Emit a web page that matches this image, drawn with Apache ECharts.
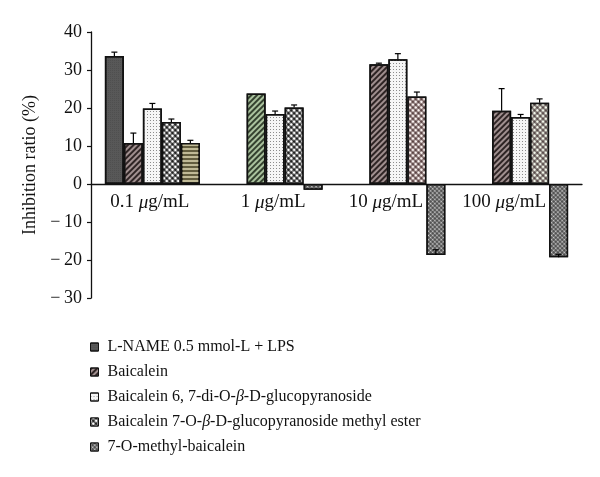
<!DOCTYPE html>
<html>
<head>
<meta charset="utf-8">
<script src="https://cdn.jsdelivr.net/npm/echarts@6/dist/echarts.min.js"></script>
<style>html,body{margin:0;padding:0;background:#fff}#c{width:600px;height:477px}</style>
</head>
<body>
<div id="c"></div>
<script>
const categories = ['0.1 μg/mL', '1 μg/mL', '10 μg/mL', '100 μg/mL'];
const seriesNames = [
  'L-NAME 0.5 mmol-L + LPS',
  'Baicalein',
  'Baicalein 6, 7-di-O-β-D-glucopyranoside',
  'Baicalein 7-O-β-D-glucopyranoside methyl ester',
  '7-O-methyl-baicalein'
];
const lname      = [33.7, null, null, null];
const baicalein  = [10.8, 23.8, 31.5, 19.3];
const diGluco    = [19.9, 18.4, 32.8, 17.6];
const methylEst  = [16.3, 20.1, 23.0, 21.4];
const omethyl    = [10.8, -1.5, -18.7, -19.3];
const lnameErr     = [1.0, 0, 0, 0];
const baicaleinErr = [2.6, 0, 0.3, 5.8];
const diGlucoErr   = [1.3, 0.8, 1.5, 0.7];
const methylEstErr = [0.8, 0.7, 1.2, 1.0];
const omethylErr   = [0.7, 0, 1.4, 0.8];
const yTicks = { min: -30, max: 40, interval: 10 };

const FONT = 'Liberation Serif';
const BW = 19;
const GRID = { left: 91, right: 18, top: 32, bottom: 179 };
const H = 477;

const P = {
  darkDot:  { color: '#585858', decal: { symbol: 'rect', symbolSize: 0.6, dashArrayX: [1, 1], dashArrayY: [1, 1], color: 'rgba(0,0,0,0.35)' } },
  brownHatch: { color: '#a08f8f', decal: { symbol: 'rect', symbolSize: 1, dashArrayX: [1, 0], dashArrayY: [1.5, 1.2], rotation: -Math.PI / 4, color: '#2e2424' } },
  greenHatch: { color: '#aac29e', decal: { symbol: 'rect', symbolSize: 1, dashArrayX: [1, 0], dashArrayY: [1.5, 1.2], rotation: -Math.PI / 4, color: '#34412f' } },
  lightDot: { color: '#f6f6f6', decal: { symbol: 'rect', symbolSize: 1, dashArrayX: [1, 2], dashArrayY: [1, 2], color: '#8c8c8c' } },
  net:      { color: '#1a1a1a', decal: { symbol: 'circle', symbolSize: 0.8, dashArrayX: [4, 0], dashArrayY: [4, 0], rotation: Math.PI / 4, color: '#ffffff' } },
  netPink:  { color: '#573f3f', decal: { symbol: 'circle', symbolSize: 0.8, dashArrayX: [4, 0], dashArrayY: [4, 0], rotation: Math.PI / 4, color: '#fbf3f1' } },
  netGreen: { color: '#544646', decal: { symbol: 'circle', symbolSize: 0.8, dashArrayX: [4, 0], dashArrayY: [4, 0], rotation: Math.PI / 4, color: '#f2f7ea' } },
  olive:    { color: '#625d3e', decal: { symbol: 'rect', symbolSize: 1, dashArrayX: [1, 0], dashArrayY: [1.6, 1.4], color: '#c0ba96' } },
  grayDot:  { color: '#444444', decal: { symbol: 'circle', symbolSize: 0.7, dashArrayX: [2.5, 0], dashArrayY: [2.5, 0], rotation: Math.PI / 4, color: '#d6d6d6' } }
};

function item(v, style) {
  if (v === null) return '-';
  if (!style) return v;
  return { value: v, itemStyle: { color: style.color, decal: style.decal } };
}

const barData = [
  { vals: lname,     base: P.darkDot,    over: [] },
  { vals: baicalein, base: P.brownHatch, over: [null, P.greenHatch, null, null] },
  { vals: diGluco,   base: P.lightDot,   over: [] },
  { vals: methylEst, base: P.net,        over: [null, null, P.netPink, P.netGreen] },
  { vals: omethyl,   base: P.grayDot,    over: [P.olive, null, null, null] }
];
const errs = [lnameErr, baicaleinErr, diGlucoErr, methylEstErr, omethylErr];

const series = barData.map((b, i) => ({
  name: seriesNames[i],
  type: 'bar',
  barWidth: BW,
  barGap: 0,
  itemStyle: { color: b.base.color, decal: b.base.decal, borderColor: '#111', borderWidth: 1.5 },
  data: b.vals.map((v, k) => item(v, b.over[k] || null))
}));

const errData = [];
barData.forEach((b, i) => {
  b.vals.forEach((v, k) => {
    if (v !== null && errs[i][k] > 0) errData.push([k, i, v, errs[i][k]]);
  });
});

series.push({
  type: 'custom',
  name: 'err',
  z: 5,
  encode: { x: 0, y: 2 },
  data: errData,
  renderItem: function (params, api) {
    const k = api.value(0), i = api.value(1), v = api.value(2), e = api.value(3);
    const p0 = api.coord([k, v]);
    const p1 = api.coord([k, v + e]);
    const x = p0[0] + (i - 2) * BW;
    const half = 3;
    return {
      type: 'group',
      children: [
        { type: 'line', shape: { x1: x, y1: p0[1], x2: x, y2: p1[1] }, style: { stroke: '#000', lineWidth: 1.2 } },
        { type: 'line', shape: { x1: x - half, y1: p1[1], x2: x + half, y2: p1[1] }, style: { stroke: '#000', lineWidth: 1.2 } }
      ]
    };
  }
});

const labelShift = [5, 4, 24, 33];
const plotH = H - GRID.top - GRID.bottom;
const zeroOffset = (0 - yTicks.min) / (yTicks.max - yTicks.min) * plotH;

const chart = echarts.init(document.getElementById('c'), null, { renderer: 'canvas' });
chart.setOption({
  animation: false,
  backgroundColor: '#fff',
  grid: GRID,
  legend: {
    orient: 'vertical',
    left: 90,
    top: 339,
    padding: 0,
    icon: 'rect',
    itemWidth: 8,
    itemHeight: 8,
    itemGap: 9,
    itemStyle: { borderColor: '#111', borderWidth: 1 },
    data: seriesNames,
    formatter: function (n) { return n.replace(/β/g, '{i|β}'); },
    textStyle: {
      fontFamily: FONT, fontSize: 16, color: '#111', padding: [0, 0, 0, 4],
      rich: { i: { fontFamily: FONT, fontSize: 16, fontStyle: 'italic', color: '#111' } }
    }
  },
  xAxis: {
    type: 'category',
    data: categories.map((c, k) => ({ value: c, textStyle: { padding: [0, labelShift[k], 0, 0] } })),
    axisLine: { onZero: true, lineStyle: { color: '#111', width: 1.3 } },
    axisTick: { show: false },
    axisLabel: {
      interval: 0,
      margin: 9 - zeroOffset,
      fontFamily: FONT, fontSize: 19, color: '#111',
      formatter: function (v) { return v.replace('μ', '{i|μ}'); },
      rich: { i: { fontFamily: FONT, fontSize: 19, fontStyle: 'italic', color: '#111' } }
    }
  },
  yAxis: {
    type: 'value',
    min: yTicks.min, max: yTicks.max, interval: yTicks.interval,
    name: 'Inhibition ratio (%)',
    nameLocation: 'middle',
    nameGap: 44,
    nameTextStyle: { fontFamily: FONT, fontSize: 18, color: '#111' },
    axisLine: { show: true, lineStyle: { color: '#111', width: 1.3 } },
    axisTick: { show: true, length: 4, lineStyle: { color: '#111', width: 1.2 } },
    splitLine: { show: false },
    axisLabel: {
      margin: 9,
      fontFamily: FONT, fontSize: 18, color: '#111',
      formatter: function (v) { return v < 0 ? '\u2212\u2009' + Math.abs(v) : String(v); }
    }
  },
  series: series
});
</script>
</body>
</html>
